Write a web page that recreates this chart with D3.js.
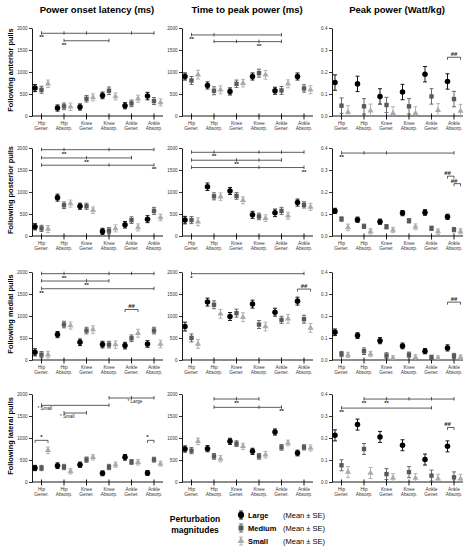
<!DOCTYPE html>
<html>
<head>
<meta charset="utf-8">
<script src="https://cdn.jsdelivr.net/npm/d3@7"></script>
<style>
  body { margin: 0; background: #fff; }
  text { font-family: "Liberation Sans", Arial, sans-serif; }
</style>
</head>
<body>
<div id="chart"></div>
<script>
const joints = ['Hip', 'Hip', 'Knee', 'Knee', 'Ankle', 'Ankle'];
const phases = ['Gener.', 'Absorp.', 'Gener.', 'Absorp.', 'Gener.', 'Absorp.'];
const magnitudes = ['Large', 'Medium', 'Small'];
const columnTitles = ['Power onset latency (ms)', 'Time to peak power (ms)', 'Peak power (Watt/kg)'];
const rowTitles = ['Following anterior pulls', 'Following posterior pulls', 'Following medial pulls', 'Following lateral pulls'];
const msTicks = [0, 500, 1000, 1500, 2000];
const powerTicks = [0, 0.1, 0.2, 0.3, 0.4];

// [Large, Medium, Small] x 6 categories
const anteriorOnsetMean = [[634, 181, 204, 468, 234, 453], [596, 219, 392, 574, 287, 340], [732, 210, 423, 445, 392, 309]];
const anteriorOnsetSE = [[80, 70, 70, 75, 70, 85], [80, 75, 75, 85, 75, 80], [85, 85, 80, 80, 80, 80]];
const anteriorOnsetSig = [
  {from: 0, to: 5, y: 1880, ticks: [1, 2, 4], labels: [{at: 0, text: '**'}]},
  {from: 1, to: 3, y: 1710, ticks: [], labels: [{at: 1, text: '**'}]}
];
const anteriorPeakTimeMean = [[898, 694, 558, 898, 574, 898], [808, 574, 732, 974, 581, 626], [940, 596, 747, 936, 732, 596]];
const anteriorPeakTimeSE = [[80, 80, 80, 80, 80, 80], [90, 90, 85, 90, 90, 85], [100, 90, 85, 100, 90, 90]];
const anteriorPeakTimeSig = [
  {from: 0, to: 4, y: 1842, ticks: [1], labels: [{at: 0, text: '**'}]},
  {from: 1, to: 4, y: 1690, ticks: [2, 3], labels: [{at: 3, text: '**'}]}
];
const anteriorPowerMean = [[0.152, 0.146, 0.089, 0.109, 0.190, 0.157], [0.047, 0.044, 0.050, 0.044, 0.089, 0.077], [0.017, 0.024, 0.012, 0.012, 0.026, 0.023]];
const anteriorPowerSE = [[0.035, 0.035, 0.035, 0.035, 0.035, 0.035], [0.035, 0.035, 0.035, 0.035, 0.035, 0.035], [0.03, 0.03, 0.03, 0.03, 0.03, 0.03]];
const anteriorPowerSig = [
  {from: [5, 0], to: [5, 2], y: 0.267, ticks: [], labels: [{at: [5, 1], text: '##'}]}
];

const posteriorOnsetMean = [[210, 872, 677, 105, 256, 383], [173, 699, 677, 120, 361, 571], [158, 737, 586, 173, 195, 421]];
const posteriorOnsetSE = [[70, 80, 70, 70, 75, 80], [70, 75, 70, 70, 75, 80], [80, 80, 75, 80, 80, 75]];
const posteriorOnsetSig = [
  {from: 0, to: 5, y: 1962, ticks: [1, 3], labels: [{at: 1, text: '**'}]},
  {from: 0, to: 4, y: 1774, ticks: [2], labels: [{at: 2, text: '**'}]},
  {from: 0, to: 5, y: 1609, ticks: [3], labels: [{at: 5, text: '**'}]}
];
const posteriorPeakTimeMean = [[361, 1120, 1023, 481, 526, 759], [361, 902, 910, 444, 571, 707], [323, 895, 812, 406, 459, 662]];
const posteriorPeakTimeSE = [[85, 85, 80, 80, 85, 80], [80, 80, 75, 75, 80, 70], [90, 85, 80, 75, 80, 80]];
const posteriorPeakTimeSig = [
  {from: 0, to: 5, y: 1902, ticks: [1, 3, 4], labels: [{at: 1, text: '**'}]},
  {from: 0, to: 4, y: 1722, ticks: [2, 3], labels: [{at: 2, text: '**'}]},
  {from: 0, to: 5, y: 1556, ticks: [3], labels: [{at: 5, text: '**'}]}
];
const posteriorPowerMean = [[0.114, 0.074, 0.065, 0.104, 0.107, 0.087], [0.077, 0.044, 0.042, 0.069, 0.035, 0.029], [0.039, 0.021, 0.027, 0.042, 0.020, 0.021]];
const posteriorPowerSE = [[0.012, 0.012, 0.012, 0.012, 0.013, 0.012], [0.01, 0.01, 0.01, 0.01, 0.01, 0.01], [0.015, 0.012, 0.012, 0.013, 0.012, 0.012]];
const posteriorPowerSig = [
  {from: 0, to: 5, y: 0.377, ticks: [1, 2], labels: [{at: 0, text: '**'}]},
  {from: [5, 0], to: [5, 1], y: 0.272, ticks: [], labels: [{at: [5, 0], text: '##'}]},
  {from: [5, 1], to: [5, 2], y: 0.238, ticks: [], labels: [{at: [5, 1], text: '##'}]}
];

const medialOnsetMean = [[175, 578, 403, 350, 327, 365], [122, 806, 669, 350, 494, 669], [122, 783, 692, 350, 608, 365]];
const medialOnsetSE = [[80, 70, 75, 75, 75, 75], [70, 75, 75, 75, 75, 75], [75, 80, 85, 85, 90, 85]];
const medialOnsetSig = [
  {from: 0, to: 5, y: 1962, ticks: [1, 3, 4], labels: [{at: 1, text: '**'}]},
  {from: 0, to: 3, y: 1795, ticks: [2], labels: [{at: 2, text: '**'}]},
  {from: 0, to: 5, y: 1620, ticks: [], labels: [{at: 0, text: '**'}]},
  {from: [4, 0], to: [4, 2], y: 1148, ticks: [], labels: [{at: [4, 1], text: '##'}]}
];
const medialPeakTimeMean = [[760, 1316, 989, 1270, 1087, 1338], [502, 1255, 1065, 806, 913, 928], [365, 1049, 973, 760, 935, 730]];
const medialPeakTimeSE = [[100, 90, 90, 90, 90, 90], [90, 90, 90, 90, 80, 90], [100, 100, 100, 100, 100, 100]];
const medialPeakTimeSig = [
  {from: 0, to: 5, y: 1962, ticks: [], labels: [{at: 0, text: '*'}]},
  {from: [5, 0], to: [5, 2], y: 1612, ticks: [], labels: [{at: [5, 1], text: '##'}]}
];
const medialPowerMean = [[0.126, 0.111, 0.088, 0.064, 0.040, 0.055], [0.027, 0.040, 0.020, 0.024, 0.012, 0.018], [0.023, 0.027, 0.009, 0.012, 0.009, 0.012]];
const medialPowerSE = [[0.015, 0.013, 0.014, 0.013, 0.012, 0.014], [0.012, 0.015, 0.013, 0.012, 0.01, 0.012], [0.012, 0.012, 0.01, 0.012, 0.01, 0.01]];
const medialPowerSig = [
  {from: [5, 0], to: [5, 2], y: 0.263, ticks: [], labels: [{at: [5, 1], text: '##'}]}
];

const lateralOnsetMean = [[318, 371, 394, 197, 561, 205], [318, 341, 508, 341, 455, 508], [720, 242, 561, 394, 447, 417]];
const lateralOnsetSE = [[60, 65, 60, 55, 65, 55], [60, 60, 60, 60, 55, 55], [75, 60, 60, 60, 60, 55]];
const lateralOnsetSig = [
  {from: 3, to: 5, y: 1909, ticks: [4], labels: [{at: 4, text: '* Large'}]},
  {from: 0, to: 3, y: 1742, ticks: [], labels: [{at: 0, text: '* Small'}]},
  {from: 1, to: 2, y: 1568, ticks: [], labels: [{at: 1, text: '* Small'}]},
  {from: [0, 0], to: [0, 2], y: 947, ticks: [], labels: [{at: [0, 1], text: '*'}]},
  {from: [5, 0], to: [5, 1], y: 947, ticks: [], labels: [{at: [5, 0], text: '*'}]}
];
const lateralPeakTimeMean = [[750, 758, 924, 697, 1136, 659], [712, 583, 871, 583, 788, 788], [924, 530, 811, 621, 886, 773]];
const lateralPeakTimeSE = [[70, 70, 70, 70, 70, 65], [70, 65, 65, 65, 65, 60], [75, 70, 70, 75, 65, 70]];
const lateralPeakTimeSig = [
  {from: 1, to: 3, y: 1886, ticks: [2], labels: [{at: 2, text: '**'}]},
  {from: 1, to: 4, y: 1697, ticks: [3], labels: [{at: 4, text: '**'}]}
];
const lateralPowerMean = [[0.212, 0.261, 0.205, 0.167, 0.102, 0.162], [0.076, 0.150, 0.036, 0.045, 0.029, 0.021], [0.045, 0.041, 0.018, 0.018, 0.015, 0.015]];
const lateralPowerSE = [[0.025, 0.025, 0.025, 0.025, 0.025, 0.025], [0.025, 0.025, 0.025, 0.025, 0.025, 0.025], [0.025, 0.025, 0.02, 0.02, 0.02, 0.02]];
const lateralPowerSig = [
  {from: 1, to: 5, y: 0.377, ticks: [2, 3, 4], labels: [{at: 1, text: '**'}, {at: 2, text: '**'}]},
  {from: 0, to: 4, y: 0.336, ticks: [], labels: [{at: 0, text: '**'}]},
  {from: [5, 0], to: [5, 1], y: 0.248, ticks: [], labels: [{at: [5, 0], text: '##'}]}
];

const panels = [
  {row: 0, col: 0, mean: anteriorOnsetMean, se: anteriorOnsetSE, sig: anteriorOnsetSig},
  {row: 0, col: 1, mean: anteriorPeakTimeMean, se: anteriorPeakTimeSE, sig: anteriorPeakTimeSig},
  {row: 0, col: 2, mean: anteriorPowerMean, se: anteriorPowerSE, sig: anteriorPowerSig},
  {row: 1, col: 0, mean: posteriorOnsetMean, se: posteriorOnsetSE, sig: posteriorOnsetSig},
  {row: 1, col: 1, mean: posteriorPeakTimeMean, se: posteriorPeakTimeSE, sig: posteriorPeakTimeSig},
  {row: 1, col: 2, mean: posteriorPowerMean, se: posteriorPowerSE, sig: posteriorPowerSig},
  {row: 2, col: 0, mean: medialOnsetMean, se: medialOnsetSE, sig: medialOnsetSig},
  {row: 2, col: 1, mean: medialPeakTimeMean, se: medialPeakTimeSE, sig: medialPeakTimeSig},
  {row: 2, col: 2, mean: medialPowerMean, se: medialPowerSE, sig: medialPowerSig},
  {row: 3, col: 0, mean: lateralOnsetMean, se: lateralOnsetSE, sig: lateralOnsetSig},
  {row: 3, col: 1, mean: lateralPeakTimeMean, se: lateralPeakTimeSE, sig: lateralPeakTimeSig},
  {row: 3, col: 2, mean: lateralPowerMean, se: lateralPowerSE, sig: lateralPowerSig}
];

const width = 471;
const height = 550;
const colX = [32, 182, 332];
const rowY = [28, 148, 272, 394];
const plotW = 131;
const plotH = 88;
const seriesOffset = [-6.5, 0, 6.5];
const seriesColor = ['#000', '#595959', '#ababab'];
const seriesShape = [d3.symbolCircle, d3.symbolSquare, d3.symbolTriangle];
const seriesSize = [24, 19, 16];

const svg = d3.select('#chart')
  .append('svg')
  .attr('width', width)
  .attr('height', height);

function drawPanel(p) {
  const x0 = colX[p.col];
  const y0 = rowY[p.row];
  const ticks = p.col === 2 ? powerTicks : msTicks;
  const y = d3.scaleLinear().domain([0, d3.max(ticks)]).range([y0 + plotH, y0]);
  const x = d3.scalePoint().domain(d3.range(6)).range([x0 + 9.5, x0 + 122]);
  const px = pos => Array.isArray(pos) ? x(pos[0]) + seriesOffset[pos[1]] : x(pos);
  const g = svg.append('g');

  // y axis
  g.append('g')
    .attr('transform', `translate(${x0},0)`)
    .call(d3.axisLeft(y).tickValues(ticks).tickSize(3).tickSizeOuter(0)
      .tickFormat(p.col === 2 ? d3.format('.1f') : d3.format('d')))
    .call(a => a.selectAll('text').style('font-size', '4.6px').attr('fill', '#333').attr('x', -4.5))
    .call(a => a.select('.domain').attr('stroke-width', 0.9))
    .call(a => a.selectAll('.tick line').attr('stroke-width', 0.8));

  // x axis
  g.append('line')
    .attr('x1', x0).attr('x2', x0 + plotW)
    .attr('y1', y(0)).attr('y2', y(0))
    .attr('stroke', '#000').attr('stroke-width', 0.9);
  g.append('g').selectAll('line')
    .data(d3.range(6))
    .join('line')
    .attr('x1', d => x(d)).attr('x2', d => x(d))
    .attr('y1', y(0) - 2.5).attr('y2', y(0) + 3.5)
    .attr('stroke', '#000').attr('stroke-width', 0.9);
  const lab = g.append('g').selectAll('text')
    .data(d3.range(6))
    .join('text')
    .attr('text-anchor', 'middle')
    .attr('font-size', '4.8px')
    .attr('fill', '#333');
  lab.append('tspan').attr('x', d => x(d)).attr('y', y(0) + 8.5).text(d => joints[d]);
  lab.append('tspan').attr('x', d => x(d)).attr('y', y(0) + 14).text(d => phases[d]);

  // error bars and markers
  magnitudes.forEach((m, s) => {
    const pts = p.mean[s].map((v, i) => ({i, v, e: p.se[s][i]}));
    const eg = g.append('g').attr('stroke', seriesColor[s]).attr('stroke-width', 0.9);
    eg.selectAll('.bar').data(pts).join('line')
      .attr('x1', d => x(d.i) + seriesOffset[s]).attr('x2', d => x(d.i) + seriesOffset[s])
      .attr('y1', d => y(Math.max(0, d.v - d.e))).attr('y2', d => y(d.v + d.e));
    eg.selectAll('.capTop').data(pts).join('line')
      .attr('x1', d => x(d.i) + seriesOffset[s] - 2).attr('x2', d => x(d.i) + seriesOffset[s] + 2)
      .attr('y1', d => y(d.v + d.e)).attr('y2', d => y(d.v + d.e));
    eg.selectAll('.capBot').data(pts.filter(d => d.v - d.e > 0)).join('line')
      .attr('x1', d => x(d.i) + seriesOffset[s] - 2).attr('x2', d => x(d.i) + seriesOffset[s] + 2)
      .attr('y1', d => y(d.v - d.e)).attr('y2', d => y(d.v - d.e));
    g.append('g').selectAll('path').data(pts).join('path')
      .attr('d', d3.symbol().type(seriesShape[s]).size(seriesSize[s]))
      .attr('transform', d => `translate(${x(d.i) + seriesOffset[s]},${y(d.v)})`)
      .attr('fill', seriesColor[s]);
  });

  // significance brackets
  p.sig.forEach(b => {
    const yy = y(b.y);
    const short = Array.isArray(b.from);
    const bg = g.append('g').attr('stroke', '#333').attr('stroke-width', 0.8);
    bg.append('line').attr('x1', px(b.from)).attr('x2', px(b.to)).attr('y1', yy).attr('y2', yy);
    if (short) {
      [b.from, b.to].forEach(t => bg.append('line')
        .attr('x1', px(t)).attr('x2', px(t)).attr('y1', yy).attr('y2', yy + 2.5));
    } else {
      [b.from, ...b.ticks, b.to].forEach(t => bg.append('line')
        .attr('x1', px(t)).attr('x2', px(t)).attr('y1', yy - 2).attr('y2', yy + 1.5));
    }
    b.labels.forEach(l => {
      const long = l.text.length > 2;
      g.append('text')
        .attr('x', long ? px(l.at) - 4 : px(l.at))
        .attr('y', short ? yy - 1 : (long ? yy + 4.5 : yy + 6))
        .attr('text-anchor', long ? 'start' : 'middle')
        .attr('font-size', long ? '4.6px' : '6px')
        .attr('font-weight', long ? 'normal' : 'bold')
        .attr('fill', '#222')
        .text(l.text);
    });
  });
}

panels.forEach(drawPanel);

// column titles
svg.append('g').selectAll('text')
  .data(columnTitles)
  .join('text')
  .attr('x', (d, i) => colX[i] + 65)
  .attr('y', 12.5)
  .attr('text-anchor', 'middle')
  .attr('font-size', '9.5px')
  .attr('font-weight', 'bold')
  .text(d => d);

// row titles
svg.append('g').selectAll('text')
  .data(rowTitles)
  .join('text')
  .attr('transform', (d, i) => `translate(12.5,${rowY[i] + plotH / 2 - 2}) rotate(-90)`)
  .attr('text-anchor', 'middle')
  .attr('font-size', '7.4px')
  .attr('font-weight', 'bold')
  .text(d => d);

// legend
const legendX = 241;
const legendY = [515, 528, 541];
const leg = svg.append('g');
leg.append('text')
  .attr('text-anchor', 'middle')
  .attr('font-size', '8.5px')
  .attr('font-weight', 'bold')
  .selectAll('tspan')
  .data(['Perturbation', 'magnitudes'])
  .join('tspan')
  .attr('x', 195)
  .attr('y', (d, i) => 522 + i * 11)
  .text(d => d);
magnitudes.forEach((m, s) => {
  const ly = legendY[s];
  const lg = leg.append('g').attr('stroke', seriesColor[s]).attr('stroke-width', 0.9);
  lg.append('line').attr('x1', legendX).attr('x2', legendX).attr('y1', ly - 4).attr('y2', ly + 4);
  lg.append('line').attr('x1', legendX - 2).attr('x2', legendX + 2).attr('y1', ly - 4).attr('y2', ly - 4);
  lg.append('line').attr('x1', legendX - 2).attr('x2', legendX + 2).attr('y1', ly + 4).attr('y2', ly + 4);
  leg.append('path')
    .attr('d', d3.symbol().type(seriesShape[s]).size(seriesSize[s] * 1.3))
    .attr('transform', `translate(${legendX},${ly})`)
    .attr('fill', seriesColor[s]);
  leg.append('text')
    .attr('x', legendX + 7).attr('y', ly + 2.7)
    .attr('font-size', '7.5px').attr('font-weight', 'bold')
    .text(m);
  leg.append('text')
    .attr('x', 283).attr('y', ly + 2.7)
    .attr('font-size', '7.5px')
    .text('(Mean ± SE)');
});
</script>
</body>
</html>
